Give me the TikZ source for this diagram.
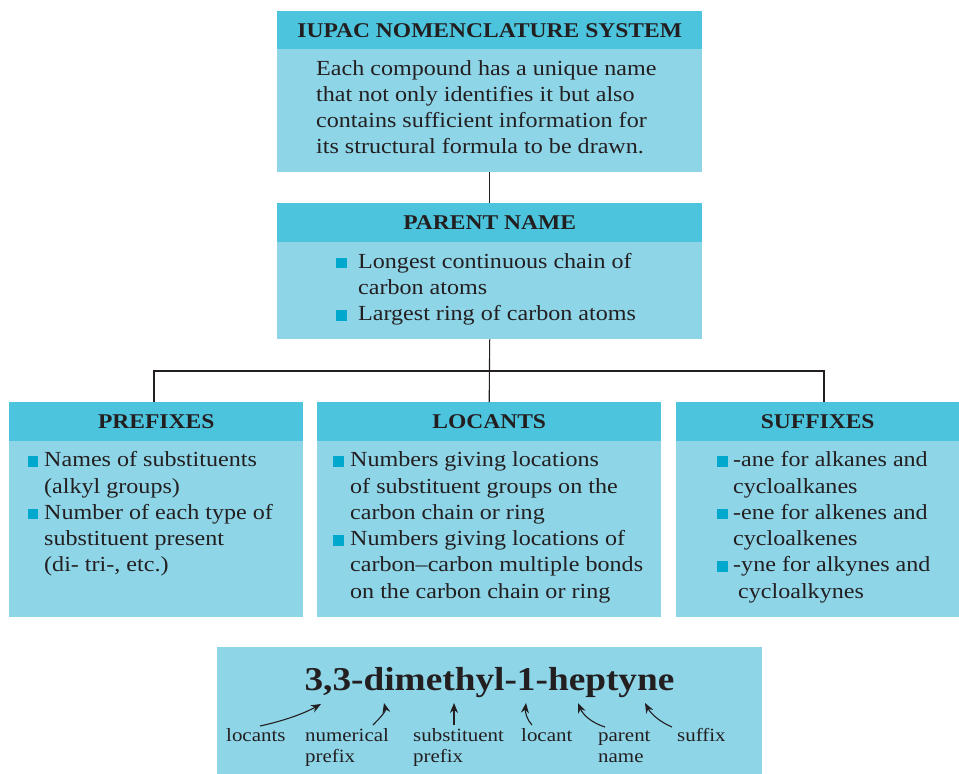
\documentclass[tikz,border=0pt]{standalone}
\usepackage{fontspec}
\setmainfont{Liberation Serif}[FakeStretch=1.12]
\usetikzlibrary{arrows.meta}
\definecolor{hdrc}{HTML}{4DC4DD}
\definecolor{bodc}{HTML}{8ED5E8}
\definecolor{bulc}{HTML}{00A8CE}
\definecolor{txtc}{HTML}{231F20}
\newcommand\bsq{\textcolor{bulc}{\rule{10.5pt}{10.5pt}}}
\newcommand\bitem[1]{\makebox[#1][l]{\bsq}}
\tikzset{
  x=1pt, y=-1pt,
  hdr/.style={fill=hdrc, anchor=north west, inner sep=0pt, text=txtc,
    font=\fontsize{21}{26}\selectfont\bfseries},
  bod/.style={fill=bodc, anchor=north west, inner sep=0pt},
  txt/.style={anchor=base west, inner sep=0pt, text=txtc,
    font=\fontsize{21.5}{26.3}\selectfont},
  lbl/.style={anchor=base west, inner sep=0pt, text=txtc,
    font=\fontsize{18.7}{21}\selectfont},
  conn/.style={draw=txtc, line width=1.1pt},
  arr/.style={draw=txtc, line width=1.1pt, -{Stealth[length=10pt,width=8pt]}}
}
\begin{document}
\begin{tikzpicture}
\useasboundingbox (0,0) rectangle (959,774);
% top box
\node[hdr, minimum width=425pt, minimum height=38pt] (t1h) at (277,11) {IUPAC NOMENCLATURE SYSTEM};
\node[bod, minimum width=425pt, minimum height=123pt] (t1b) at (277,49) {};
\node[txt] (t1t) at (316,75) {\begin{tabular}[t]{@{}l@{}}Each compound has a unique name\\that not only identifies it but also\\contains sufficient information for\\its structural formula to be drawn.\end{tabular}};
% parent box
\node[hdr, minimum width=425pt, minimum height=39pt] (p1h) at (277,203) {PARENT NAME};
\node[bod, minimum width=425pt, minimum height=97pt] (p1b) at (277,242) {};
\node[txt] (p1t) at (336,268.3) {\begin{tabular}[t]{@{}l@{}}\bitem{22pt}Longest continuous chain of\\\hspace*{22pt}carbon atoms\\\bitem{22pt}Largest ring of carbon atoms\end{tabular}};
% prefixes
\node[hdr, minimum width=294pt, minimum height=39pt] (prh) at (9,402) {PREFIXES};
\node[bod, minimum width=294pt, minimum height=176pt] (prb) at (9,441) {};
\node[txt] (prt) at (27.5,466.7) {\begin{tabular}[t]{@{}l@{}}\bitem{16.5pt}Names of substituents\\\hspace*{16.5pt}(alkyl groups)\\\bitem{16.5pt}Number of each type of\\\hspace*{16.5pt}substituent present\\\hspace*{16.5pt}(di- tri-, etc.)\end{tabular}};
% locants
\node[hdr, minimum width=344pt, minimum height=39pt] (loh) at (317,402) {LOCANTS};
\node[bod, minimum width=344pt, minimum height=176pt] (lob) at (317,441) {};
\node[txt] (lot) at (333,466.7) {\begin{tabular}[t]{@{}l@{}}\bitem{17pt}Numbers giving locations\\\hspace*{17pt}of substituent groups on the\\\hspace*{17pt}carbon chain or ring\\\bitem{17pt}Numbers giving locations of\\\hspace*{17pt}carbon–carbon multiple bonds\\\hspace*{17pt}on the carbon chain or ring\end{tabular}};
% suffixes
\node[hdr, minimum width=283pt, minimum height=39pt] (suh) at (676,402) {SUFFIXES};
\node[bod, minimum width=283pt, minimum height=176pt] (sub) at (676,441) {};
\node[txt] (sut) at (717,466.7) {\begin{tabular}[t]{@{}l@{}}\bitem{16pt}-ane for alkanes and\\\hspace*{16pt}cycloalkanes\\\bitem{16pt}-ene for alkenes and\\\hspace*{16pt}cycloalkenes\\\bitem{16pt}-yne for alkynes and\\\hspace*{21pt}cycloalkynes\end{tabular}};
% connectors
\coordinate (jl) at (154,371);
\coordinate (jr) at (824,371);
\draw[conn] (t1b.south) -- (p1h.north);
\draw[conn] (p1b.south) -- (loh.north);
\draw[conn] (jl|-prh.north) -- (jl) -- (jr) -- (jr|-suh.north);
% bottom example
\node[bod, minimum width=545pt, minimum height=127pt] (exb) at (217,647) {};
\node[anchor=base, inner sep=0pt, text=txtc, font=\fontsize{33.3}{40}\selectfont\bfseries] (ext) at (489.5,690) {3,3-dimethyl-1-heptyne};
\node[lbl] (l1) at (226,741) {locants};
\node[lbl] (l2) at (305,741) {\begin{tabular}[t]{@{}l@{}}numerical\\prefix\end{tabular}};
\node[lbl] (l3) at (413,741) {\begin{tabular}[t]{@{}l@{}}substituent\\prefix\end{tabular}};
\node[lbl] (l4) at (521,741) {locant};
\node[lbl] (l5) at (598,741) {\begin{tabular}[t]{@{}l@{}}parent\\name\end{tabular}};
\node[lbl] (l6) at (677,741) {suffix};
\coordinate (a1s) at (260,726); \coordinate (a1e) at (321,704);
\coordinate (a2s) at (373,725); \coordinate (a2e) at (384,703);
\coordinate (a3s) at (454,725); \coordinate (a3e) at (454,703);
\coordinate (a4s) at (532,725); \coordinate (a4e) at (526,703);
\coordinate (a5s) at (605,727); \coordinate (a5e) at (578,703);
\coordinate (a6s) at (672,727); \coordinate (a6e) at (645,703);
\draw[arr] (a1s) .. controls (283,721) and (303,714) .. (a1e);
\draw[arr] (a2s) .. controls (381,717) and (386,711) .. (a2e);
\draw[arr] (a3s) -- (a3e);
\draw[arr] (a4s) .. controls (527,720) and (525,712) .. (a4e);
\draw[arr] (a5s) .. controls (592,723) and (583,715) .. (a5e);
\draw[arr] (a6s) .. controls (660,722) and (651,714) .. (a6e);
\end{tikzpicture}
\end{document}
